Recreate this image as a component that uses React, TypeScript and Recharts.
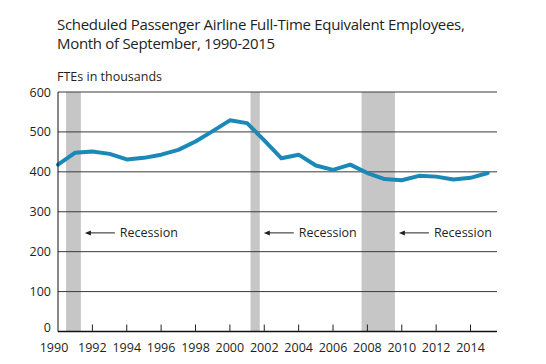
import React from "react";
import {
  LineChart,
  Line,
  XAxis,
  YAxis,
  ReferenceArea,
  ReferenceLine,
  ReferenceDot,
} from "recharts";

const years = [
  1990, 1991, 1992, 1993, 1994, 1995, 1996, 1997, 1998, 1999, 2000, 2001, 2002,
  2003, 2004, 2005, 2006, 2007, 2008, 2009, 2010, 2011, 2012, 2013, 2014, 2015,
];
const ftes = [
  418, 448, 451, 445, 431, 435, 443, 455, 476, 502, 529, 522, 479, 434, 443,
  416, 405, 418, 397, 382, 379, 390, 388, 381, 385, 397,
];
const yearTicks = [
  1990, 1992, 1994, 1996, 1998, 2000, 2002, 2004, 2006, 2008, 2010, 2012, 2014,
];
const valueTicks = [0, 100, 200, 300, 400, 500, 600];
const recessions = [
  { start: 1990.47, end: 1991.33 },
  { start: 2001.2, end: 2001.74 },
  { start: 2007.66, end: 2009.6 },
];
const recessionLabel = "Recession";
const labelLevel = 247;

const data = years.map((year, i) => ({ year, fte: ftes[i] }));

const font = "'Open Sans', 'Noto Sans', sans-serif";
const textColor = "#231f20";

function YearTick({ x, y, payload, index }: any) {
  const first = index === 0;
  return (
    <g>
      {!first && (
        <line x1={x} x2={x} y1={y - 7} y2={y} stroke="#222" strokeWidth={1} />
      )}
      <text
        x={first ? x - 4 : x}
        y={y + 20.5}
        textAnchor="middle"
        fontSize={12.5}
        fontFamily={font}
        fill={textColor}
      >
        {payload.value}
      </text>
    </g>
  );
}

function ValueTick({ x, y, payload }: any) {
  // the zero label sits a little above the axis line
  const lift = payload.value === 0 ? 4 : 0;
  return (
    <text
      x={x}
      y={y - lift + 4.5}
      textAnchor="end"
      fontSize={12.5}
      fontFamily={font}
      fill={textColor}
    >
      {payload.value}
    </text>
  );
}

function RecessionNote({ cx, cy }: any) {
  if (cx == null || cy == null) return null;
  const tip = cx + 4;
  return (
    <g>
      <polygon
        points={`${tip},${cy} ${tip + 6},${cy - 2.5} ${tip + 6},${cy + 2.5}`}
        fill="#222"
      />
      <line x1={tip + 5} x2={tip + 30} y1={cy} y2={cy} stroke="#222" strokeWidth={1} />
      <text
        x={tip + 35}
        y={cy + 4.5}
        fontSize={12.5}
        fontFamily={font}
        fill={textColor}
      >
        {recessionLabel}
      </text>
    </g>
  );
}

export default function App() {
  return (
    <div
      style={{
        position: "absolute",
        left: 0,
        top: 0,
        width: 546,
        height: 364,
        background: "#fff",
        fontFamily: font,
        color: textColor,
      }}
    >
      <div
        style={{
          position: "absolute",
          left: 57,
          top: 15,
          fontSize: 15,
          lineHeight: "19px",
          letterSpacing: -0.3,
          whiteSpace: "nowrap",
        }}
      >
        Scheduled Passenger Airline Full-Time Equivalent Employees,
        <br />
        Month of September, 1990-2015
      </div>
      <div
        style={{
          position: "absolute",
          left: 57,
          top: 68,
          fontSize: 12.5,
          lineHeight: "18px",
          whiteSpace: "nowrap",
        }}
      >
        FTEs in thousands
      </div>
      <div style={{ position: "absolute", left: 0, top: 0 }}>
        <LineChart
          width={546}
          height={364}
          data={data}
          margin={{ top: 92, right: 49, bottom: 0, left: 8 }}
        >
          {recessions.map((r) => (
            <ReferenceArea
              key={r.start}
              x1={r.start}
              x2={r.end}
              y1={0}
              y2={600}
              fill="#c6c6c6"
              fillOpacity={1}
              stroke="none"
              ifOverflow="visible"
            />
          ))}
          {valueTicks
            .filter((v) => v > 0)
            .map((v) => (
              <ReferenceLine key={v} y={v} stroke="#3a3a3a" strokeWidth={1} />
            ))}
          {recessions.map((r) => (
            <ReferenceDot
              key={"n" + r.start}
              x={r.end}
              y={labelLevel}
              r={0}
              ifOverflow="visible"
              shape={<RecessionNote />}
            />
          ))}
          <XAxis
            dataKey="year"
            type="number"
            domain={[1990, 2015.54]}
            ticks={yearTicks}
            interval={0}
            height={32.5}
            tickSize={0}
            tickMargin={0}
            tickLine={false}
            axisLine={{ stroke: "#111", strokeWidth: 1.6 }}
            tick={<YearTick />}
          />
          <YAxis
            type="number"
            domain={[0, 600]}
            ticks={valueTicks}
            interval={0}
            width={50}
            tickSize={7}
            tickMargin={0}
            tickLine={false}
            axisLine={{ stroke: "#111", strokeWidth: 1 }}
            tick={<ValueTick />}
          />
          <Line
            dataKey="fte"
            type="linear"
            stroke="#1a89b8"
            strokeWidth={4}
            strokeLinejoin="round"
            strokeLinecap="round"
            dot={false}
            activeDot={false}
            isAnimationActive={false}
          />
        </LineChart>
      </div>
    </div>
  );
}
